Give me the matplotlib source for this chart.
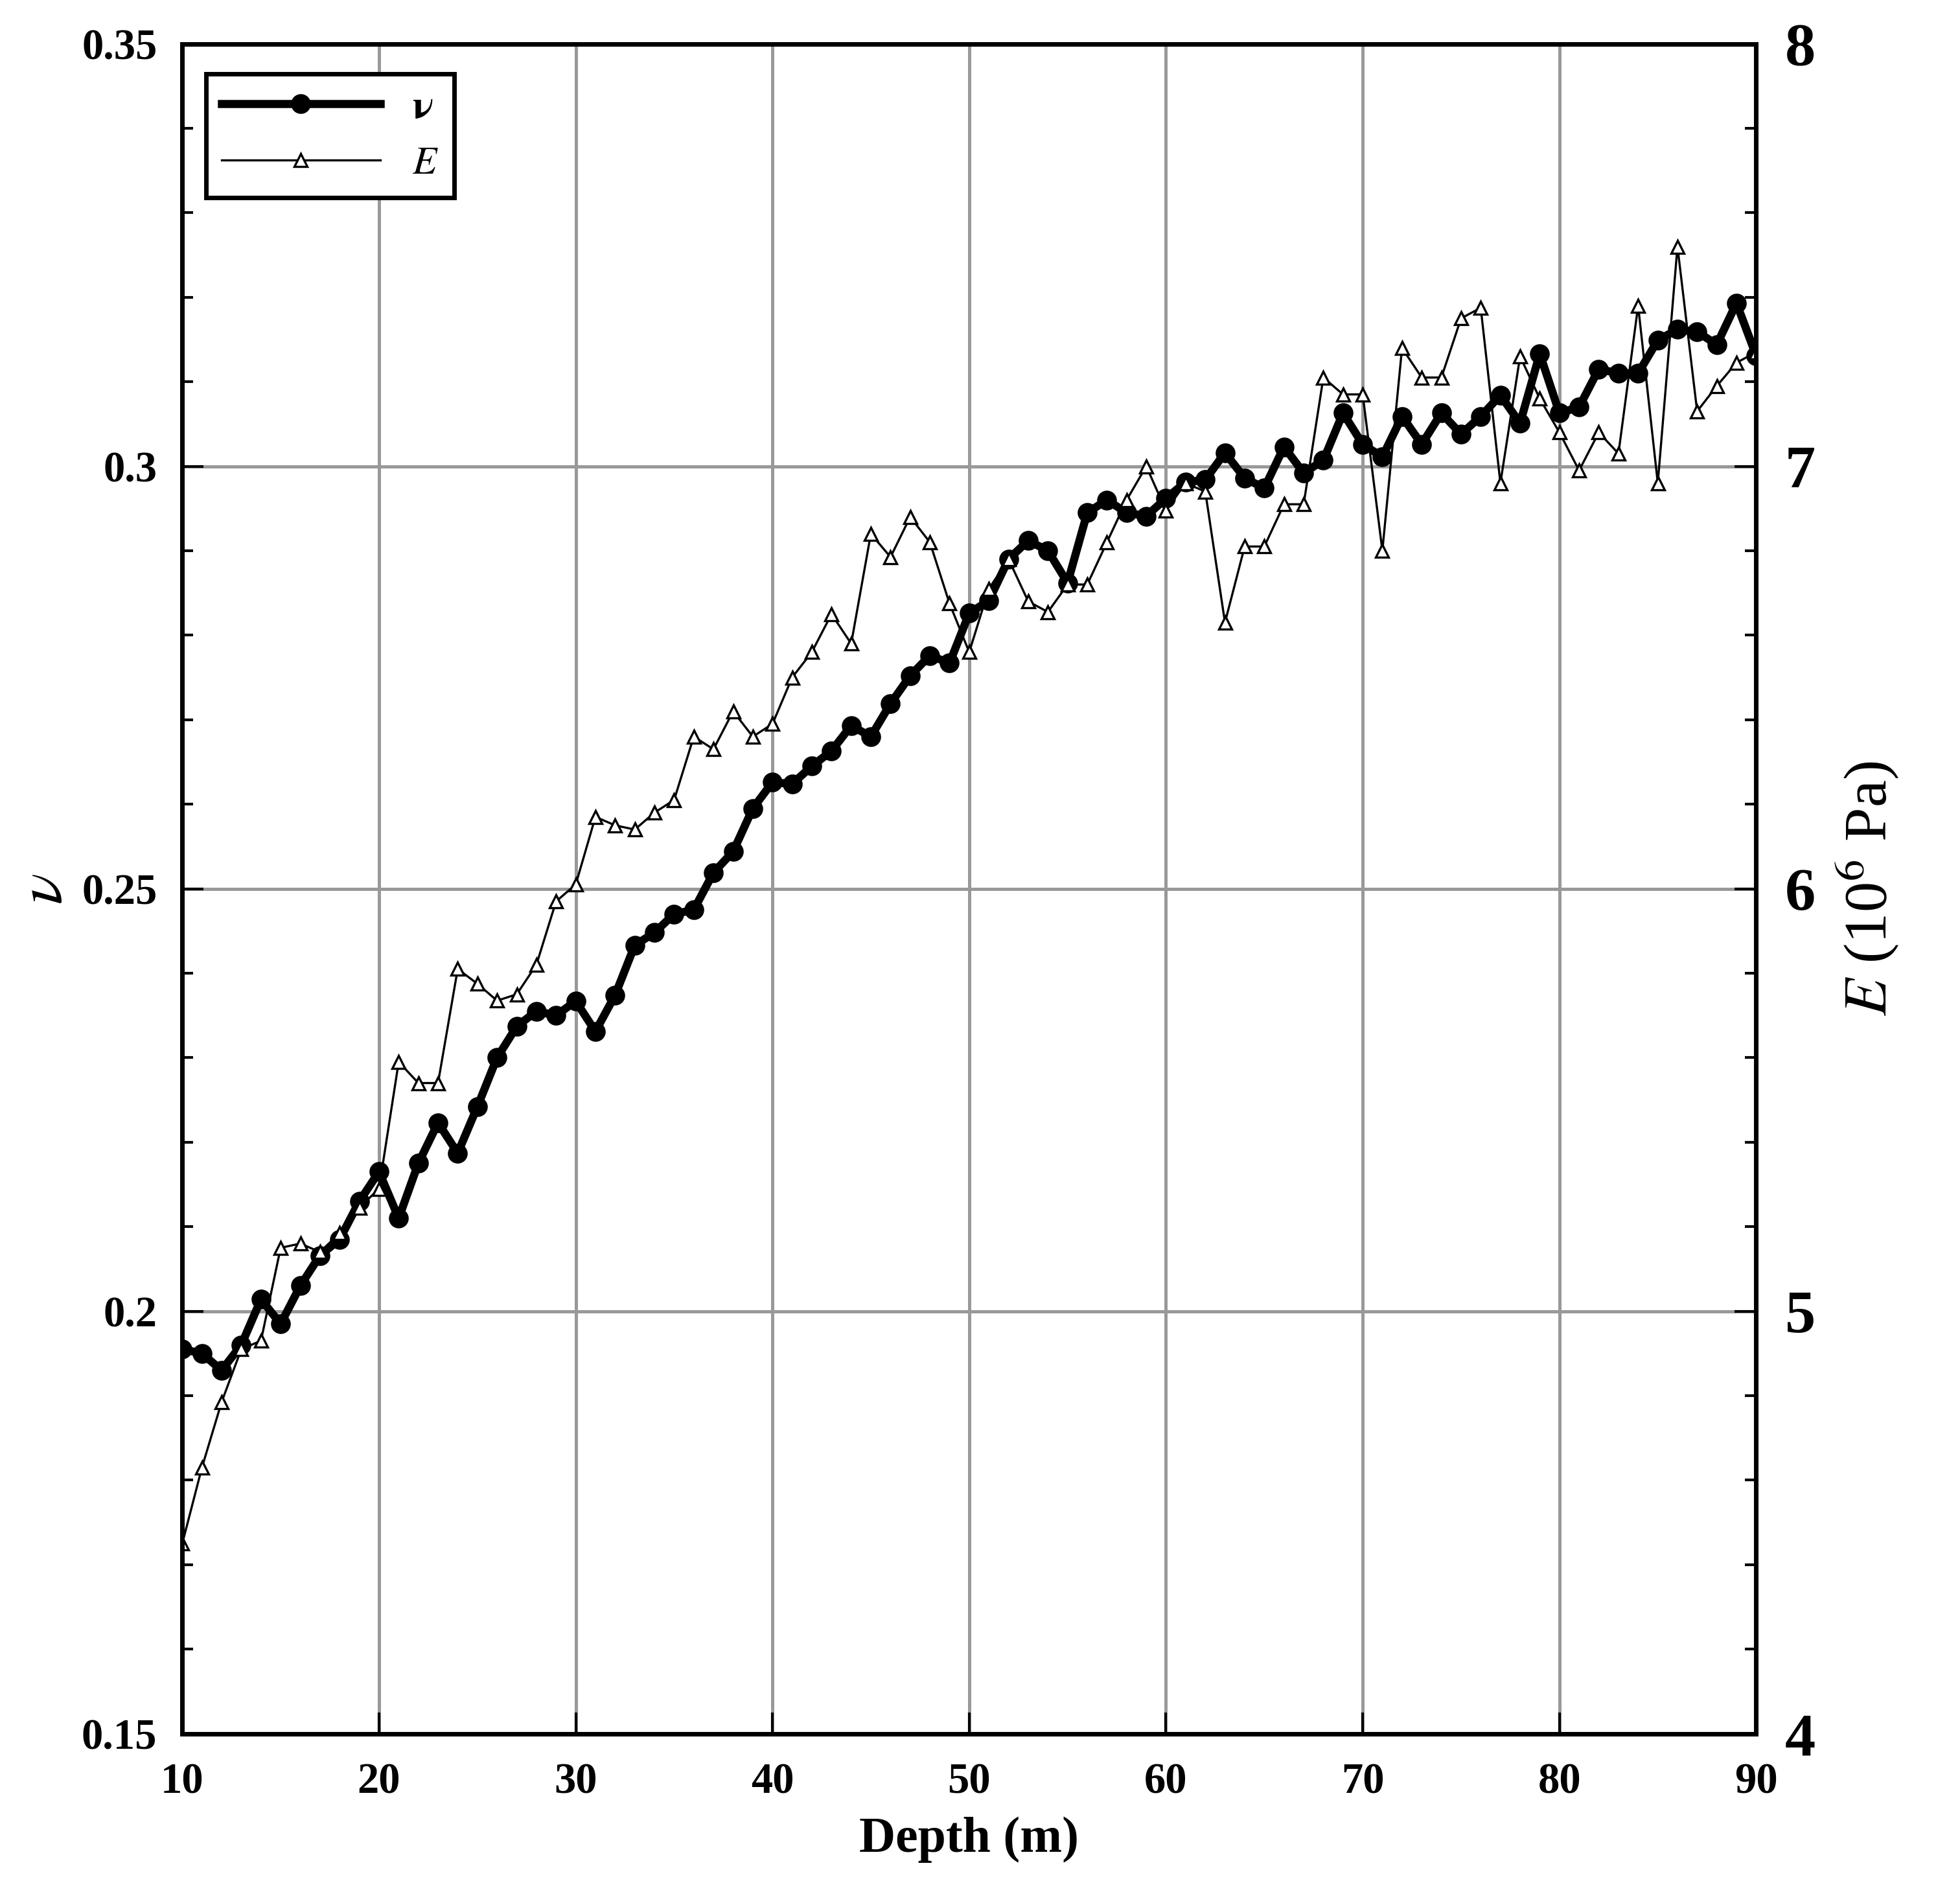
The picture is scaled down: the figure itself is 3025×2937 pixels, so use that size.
import matplotlib
matplotlib.use("Agg")
import matplotlib.pyplot as plt
from matplotlib.ticker import MultipleLocator
import numpy as np

depth = list(range(10, 91))
nu = [0.1955,0.195,0.193,0.196,0.2014,0.1985,0.203,0.2066,0.2085,0.213,0.2165,0.211,0.2175,0.2223,0.2187,
      0.2242,0.230,0.2337,0.2355,0.235,0.2367,0.2331,0.2374,0.2433,0.2448,0.247,0.2475,0.2519,0.2544,0.2595,
      0.2626,0.2624,0.2645,0.2663,0.2693,0.268,0.2719,0.2752,0.2776,0.2767,0.2826,0.2841,0.289,0.2912,0.290,
      0.2862,0.2945,0.296,0.2945,0.2941,0.2962,0.2981,0.2984,0.3016,0.2986,0.2974,0.3023,0.2992,0.3007,0.3063,
      0.3026,0.3011,0.3059,0.3026,0.3063,0.3038,0.3059,0.3084,0.3051,0.3133,0.3063,0.307,0.3115,0.311,0.311,
      0.3149,0.3162,0.3159,0.3144,0.3193,0.3131]
E = [4.45,4.63,4.785,4.91,4.93,5.15,5.16,5.14,5.185,5.245,5.29,5.59,5.54,5.54,5.81,5.775,5.735,5.75,5.82,5.97,
     6.01,6.17,6.15,6.14,6.18,6.21,6.36,6.33,6.42,6.36,6.39,6.50,6.56,6.65,6.58,6.84,6.785,6.88,6.82,6.675,
     6.56,6.71,6.78,6.68,6.655,6.72,6.72,6.82,6.92,7.00,6.895,6.96,6.94,6.63,6.81,6.81,6.91,6.91,7.21,7.17,
     7.17,6.80,7.28,7.21,7.21,7.35,7.375,6.96,7.26,7.16,7.08,6.99,7.08,7.03,7.38,6.96,7.52,7.13,7.19,7.245,7.27]

plt.rcParams['font.family'] = ['Liberation Serif', 'DejaVu Serif']
plt.rcParams['mathtext.fontset'] = 'stix'
fig = plt.figure(figsize=(15.125, 14.685), dpi=200)
ax = fig.add_axes([0.093, 0.089, 0.803, 0.888])
ax2 = ax.twinx()

l1, = ax.plot(depth, nu, '-o', color='black', lw=4.5, ms=10, label=r'$\nu$', zorder=3)
l2, = ax2.plot(depth, E, '-^', color='black', lw=1.2, ms=7, mfc='white', mew=1.2, label=r'$E$')

ax.set_xlim(10, 90)
ax.set_ylim(0.15, 0.35)
ax2.set_ylim(4, 8)
ax.set_xticks(range(10, 91, 10))
ax.set_yticks([0.15, 0.2, 0.25, 0.3, 0.35])
ax.set_yticklabels(['0.15', '0.2', '0.25', '0.3', '0.35'])
ax.yaxis.set_minor_locator(MultipleLocator(0.01))
ax2.set_yticks([4, 5, 6, 7, 8])
ax2.yaxis.set_minor_locator(MultipleLocator(0.2))
ax.grid(True, color='#999999', lw=1.8)

for a in (ax, ax2):
    a.tick_params(direction='in', which='both', width=1.5)
    a.tick_params(which='major', length=12)
    a.tick_params(which='minor', length=6)
    for s in a.spines.values():
        s.set_linewidth(2.5)
ax.tick_params(axis='x', pad=16)
ax.tick_params(axis='y', pad=14)
ax2.tick_params(axis='y', pad=16)
for lab in ax.get_xticklabels() + ax.get_yticklabels():
    lab.set_fontsize(24); lab.set_fontweight('bold')
for lab in ax2.get_yticklabels():
    lab.set_fontsize(34); lab.set_fontweight('bold')

ax.set_xlabel(r'Depth (m)', fontsize=28, fontweight='bold', labelpad=8)
ax.set_ylabel(r'$\nu$', fontsize=36, labelpad=4)
ax2.set_ylabel(r'$\mathbf{\mathit{E}}$ (10$^6$ Pa)', fontsize=34, labelpad=10)

leg = ax.legend([l1, l2], [r'$\mathbf{\nu}$', r'$\mathbf{\mathit{E}}$'], loc='upper left', fontsize=22,
                fancybox=False, edgecolor='black', framealpha=1, handlelength=4,
                bbox_to_anchor=(0.015, 0.982), borderaxespad=0)
leg.get_frame().set_linewidth(2.5)
fig.savefig('out.png', dpi=200)
